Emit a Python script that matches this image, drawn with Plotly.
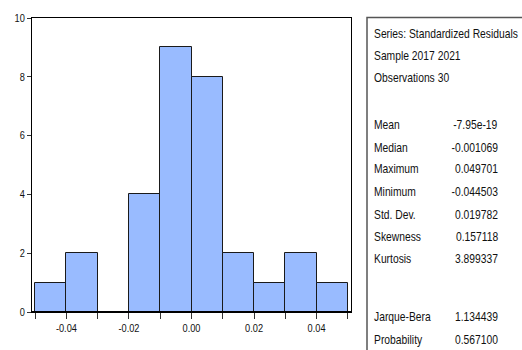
import plotly.graph_objects as go

# Histogram of standardized residuals (bin width 0.01)
bin_left = [-0.05, -0.04, -0.03, -0.02, -0.01, 0.00, 0.01, 0.02, 0.03, 0.04]
counts = [1, 2, 0, 4, 9, 8, 2, 1, 2, 1]
bin_width = 0.01

x_ticks = [-0.04, -0.02, 0.00, 0.02, 0.04]
x_tick_text = ["-0.04", "-0.02", "0.00", "0.02", "0.04"]
y_ticks = [0, 2, 4, 6, 8, 10]

stat_header = ["Series: Standardized Residuals", "Sample 2017 2021", "Observations 30"]
stat_names = ["Mean", "Median", "Maximum", "Minimum", "Std. Dev.", "Skewness", "Kurtosis"]
stat_values = ["-7.95e-19", "-0.001069", "0.049701", "-0.044503", "0.019782", "0.157118", "3.899337"]
test_names = ["Jarque-Bera", "Probability"]
test_values = ["1.134439", "0.567100"]

W, H = 522, 350
ML, MR, MT, MB = 32, 171, 15, 38
PW, PH = W - ML - MR, H - MT - MB

FONT = "Liberation Sans Narrow, Arial Narrow, Liberation Sans, Arial, sans-serif"


def px(x):
    return (x - ML) / PW


def py(y):
    return (H - MB - y) / PH


centers = [b + bin_width / 2 for b in bin_left]

fig = go.Figure()
fig.add_trace(go.Bar(
    x=centers, y=counts, width=bin_width,
    marker=dict(color="#99bbff", line=dict(color="#1a1a1a", width=1)),
    hoverinfo="skip",
))

annotations = []


def label(text, x, y, anchor):
    annotations.append(dict(text=text, x=px(x), y=py(y), xref="paper", yref="paper",
                            xanchor=anchor, align=anchor, yanchor="middle",
                            showarrow=False))


header_y = [31, 53, 76]
for txt, yy in zip(stat_header, header_y):
    label(txt, 372, yy, "left")
stat_y = [123, 146, 168, 191, 214, 236, 258]
for name, val, yy in zip(stat_names, stat_values, stat_y):
    label(name, 372, yy, "left")
    label(val, 500, yy, "right")
test_y = [317, 340]
for name, val, yy in zip(test_names, test_values, test_y):
    label(name, 372, yy, "left")
    label(val, 500, yy, "right")

shapes = [
    # statistics panel frame
    dict(type="rect", xref="paper", yref="paper",
         x0=px(367), x1=px(540), y0=py(370), y1=py(14.5),
         line=dict(color="#555555", width=1.5), fillcolor="rgba(0,0,0,0)"),
    # thicker baseline
    dict(type="line", xref="paper", yref="paper", x0=0, x1=1, y0=0, y1=0,
         line=dict(color="black", width=2)),
]

fig.update_layout(
    width=W, height=H,
    margin=dict(l=ML, r=MR, t=MT, b=MB, pad=0),
    paper_bgcolor="white", plot_bgcolor="white",
    font=dict(family=FONT, size=12, color="#111111"),
    showlegend=False, bargap=0,
    annotations=annotations, shapes=shapes,
)
fig.update_xaxes(
    range=[-0.051, 0.051], tickvals=x_ticks, ticktext=x_tick_text,
    ticks="outside", ticklen=6, tickcolor="#333333", tickwidth=1,
    minor=dict(dtick=0.01, tick0=0, ticks="outside", ticklen=6, tickcolor="#333333"),
    showline=True, linecolor="black", linewidth=1, mirror=True,
    showgrid=False, zeroline=False, tickfont=dict(size=11),
)
fig.update_yaxes(
    range=[0, 10], tickvals=y_ticks,
    ticks="outside", ticklen=4, tickcolor="#333333", tickwidth=1,
    showline=True, linecolor="black", linewidth=1, mirror=True,
    showgrid=False, zeroline=False, tickfont=dict(size=11),
)

# Condense the sans-serif text horizontally (narrow typeface look):
# scale each text about its anchor point, keeping any existing transform.
squeeze_js = """
(function () {
  var gd = document.getElementById('{plot_id}');
  function squeeze() {
    gd.querySelectorAll('text.annotation-text, .xtick text, .ytick text').forEach(function (t) {
      if (t.getAttribute('data-squeezed')) { return; }
      var s = t.classList.contains('annotation-text') ? 0.86 : 0.84;
      var x = parseFloat(t.getAttribute('x') || '0');
      var base = t.getAttribute('transform') || '';
      t.setAttribute('transform', base + ' translate(' + x + ',0) scale(' + s + ',1) translate(' + (-x) + ',0)');
      t.setAttribute('data-squeezed', '1');
    });
  }
  squeeze();
})();
"""

fig.write_html("out.html", post_script=squeeze_js)
